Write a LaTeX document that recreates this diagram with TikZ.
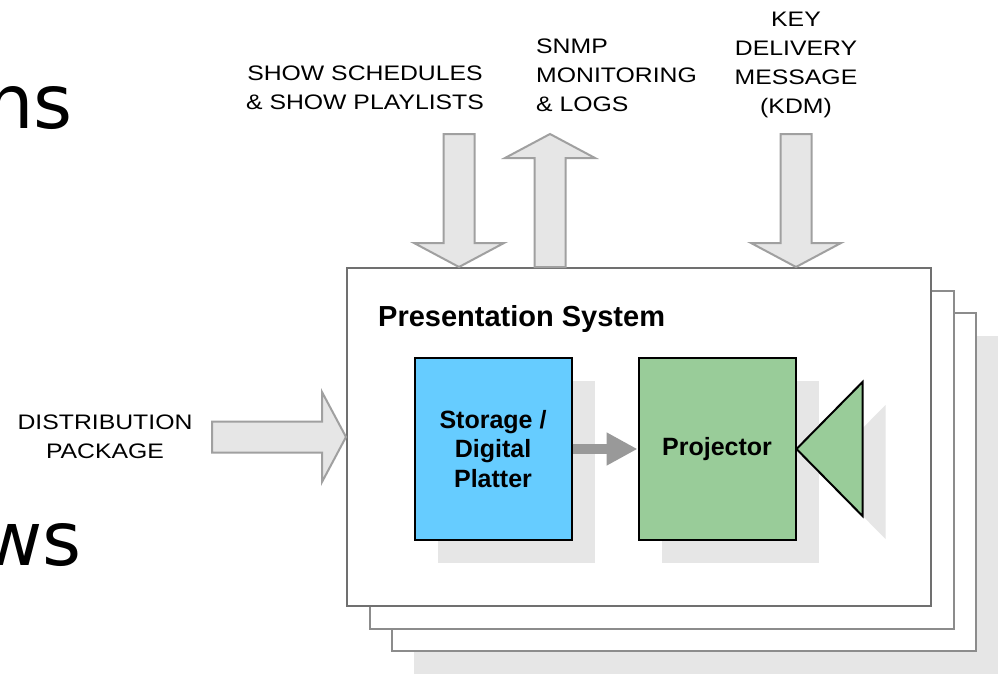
\documentclass[tikz,border=0pt]{standalone}
\usepackage{fontspec}
\setmainfont{Liberation Sans}
\newfontfamily\labelfont[FakeStretch=1.18]{Liberation Sans}
\newfontfamily\slidefont{DejaVu Sans}
\usetikzlibrary{calc,positioning,shadows,arrows.meta}

\definecolor{storeblue}{HTML}{66CCFF}
\definecolor{projgreen}{HTML}{99CC99}
\definecolor{boxgray}{HTML}{707070}
\definecolor{backgray}{HTML}{8C8C8C}
\definecolor{arrowgray}{HTML}{A0A0A0}
\definecolor{shade}{HTML}{E6E6E6}
\definecolor{flowgray}{HTML}{999999}

\tikzset{
    unit/.style={
           rectangle,
           draw=black,
           line width=2pt,
           minimum width=157pt,
           minimum height=182pt,
           align=center,
           font=\bfseries\fontsize{25}{29.3}\selectfont,
           drop shadow={shadow xshift=23pt, shadow yshift=-23pt,
                        fill=shade, draw=none, opacity=1},
           },
    system/.style={
           rectangle,
           draw=boxgray,
           fill=white,
           line width=2pt,
           minimum width=584pt,
           minimum height=338pt,
           drop shadow={shadow xshift=67pt, shadow yshift=-68pt,
                        fill=shade, draw=none, opacity=1},
           copy shadow={shadow xshift=45pt, shadow yshift=-45pt,
                        fill=white, draw=backgray, line width=2pt},
           copy shadow={shadow xshift=22.5pt, shadow yshift=-22.5pt,
                        fill=white, draw=backgray, line width=2pt},
           },
    label/.style={
           inner sep=0pt,
           font=\labelfont\fontsize{21}{29}\selectfont,
           },
    slide/.style={
           inner sep=0pt,
           font=\slidefont\fontsize{75}{80}\selectfont,
           },
    blockarrow/.style={
           draw=arrowgray,
           fill=shade,
           line width=2pt,
           line join=miter,
           },
    lens/.style={
           draw=black,
           fill=projgreen,
           line width=2pt,
           line join=miter,
           },
    flow/.style={
           draw=flowgray,
           line width=10pt,
           -{Triangle[length=31pt,width=31pt]},
           },
}

% wide outlined arrow from #1 to #2
\newcommand{\bigarrow}[2]{%
  \draw[blockarrow] let \p1=(#1), \p2=(#2),
    \n1={atan2(\y2-\y1,\x2-\x1)}, \n2={veclen(\x2-\x1,\y2-\y1)} in
    [shift={(\p1)}, rotate=\n1]
    (0,15.5) -- ({\n2-24},15.5) -- ({\n2-24},45) -- (\n2,0)
    -- ({\n2-24},-45) -- ({\n2-24},-15.5) -- (0,-15.5) -- cycle;}

\begin{document}
\begin{tikzpicture}[x=1pt,y=1pt]
 \useasboundingbox (0,0) rectangle (1003,-677);
 \clip (0,0) rectangle (1003,-677);

 % slide text left of the diagram
 \node[slide, anchor=base east] (NS) at (73,-128) {ns};
 \node[slide, anchor=base east] (WS) at (82,-565) {ws};

 \node[system] (PS) at (639,-437) {};
 \node[anchor=base west,
 inner sep=0pt,
 font=\bfseries\fontsize{29}{32}\selectfont
 ] (PSTITLE) at ([shift={(32,-59)}]PS.north west) {Presentation System};

 \node[unit, fill=storeblue] (STORE) at (493,-449)
 {Storage /\\Digital\\Platter};

 \node[unit,
 fill=projgreen,
 right=65pt of STORE
 ] (PROJ) {Projector};

 \draw[lens, drop shadow={shadow xshift=23pt, shadow yshift=-23pt,
                          fill=shade, draw=none, opacity=1}]
   (PROJ.east) -- ++(66,67) -- ++(0,-134) -- cycle;

 \draw[flow] (STORE) -- (PROJ);

 % inputs and outputs
 \node[label, align=center] (SCHED) at (365,-88)
 {SHOW SCHEDULES\\\& SHOW PLAYLISTS};
 \node[label, align=left, anchor=west] (SNMP) at (536,-75)
 {SNMP\\MONITORING\\\& LOGS};
 \node[label, align=center] (KDM) at (796,-65)
 {KEY\\DELIVERY\\MESSAGE\\(KDM)};
 \node[label, align=center] (DIST) at (105,-437)
 {DISTRIBUTION\\PACKAGE};

 \coordinate (schedtop) at (459,-134);
 \coordinate (snmptop) at (550,-134);
 \coordinate (kdmtop) at (796,-134);
 \coordinate (disttail) at (212,-437);

 \bigarrow{schedtop}{schedtop |- PS.north}
 \bigarrow{snmptop |- PS.north}{snmptop}
 \bigarrow{kdmtop}{kdmtop |- PS.north}
 \bigarrow{disttail}{disttail -| PS.west}
\end{tikzpicture}
\end{document}
